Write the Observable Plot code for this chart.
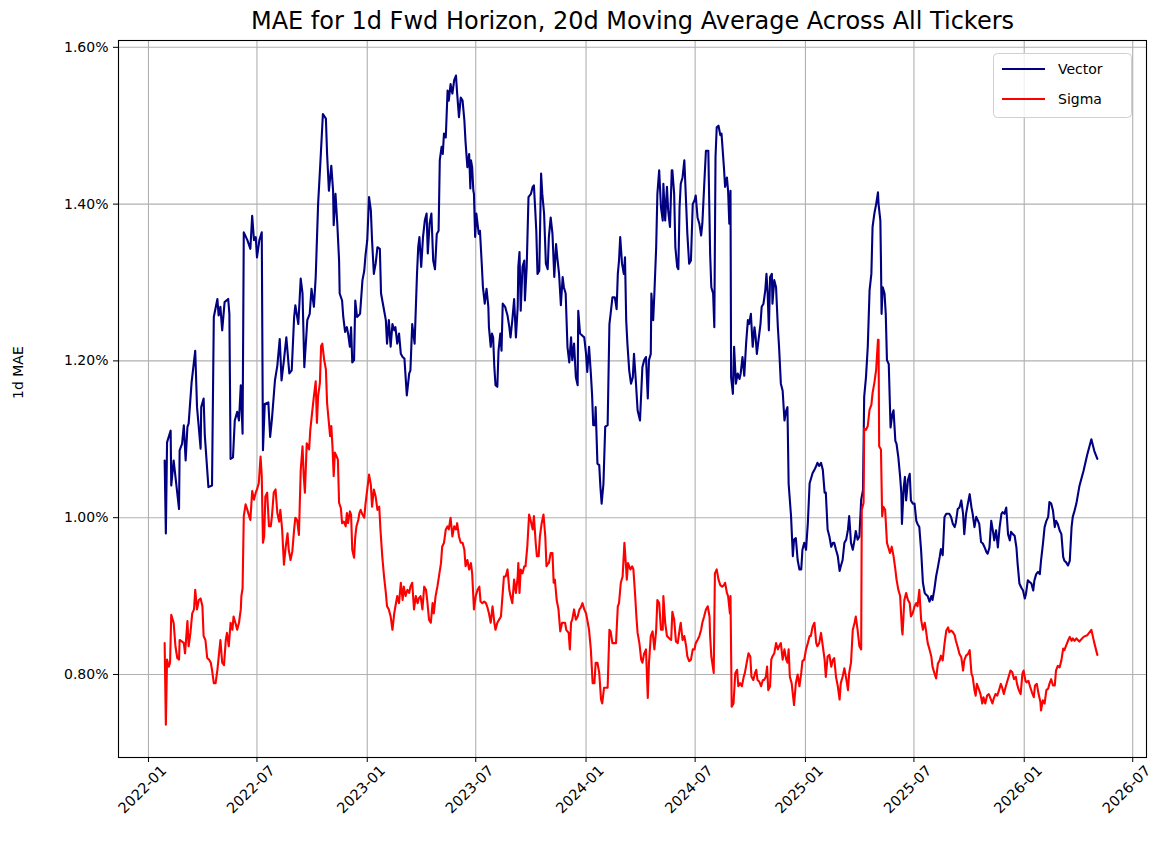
<!DOCTYPE html>
<html>
<head>
<meta charset="utf-8">
<script src="https://cdn.jsdelivr.net/npm/d3@7"></script>
<script src="https://cdn.jsdelivr.net/npm/@observablehq/plot@0.6"></script>
<style>
  html, body { margin: 0; padding: 0; background: #fff; }
  #wrap { position: relative; width: 1168px; height: 848px; font-family: "DejaVu Sans", sans-serif; }
  #legend { position: absolute; left: 993px; top: 53px; }
</style>
</head>
<body>
<div id="wrap"></div>
<script>
// ---- data: [days since startDate, 20d moving-average MAE in %] ----
const startDate = "2022-01-28";

const vectorObs = [
  [0,1.073],[2,0.980],[4,1.096],[10,1.111],[11,1.041],[15,1.073],[24,1.011],[25,1.086],[29,1.094],[32,1.118],
  [35,1.073],[38,1.116],[40,1.120],[45,1.173],[51,1.213],[54,1.141],[60,1.088],[61,1.141],[65,1.152],[67,1.105],
  [73,1.039],[79,1.041],[82,1.256],[88,1.279],[90,1.258],[93,1.269],[96,1.239],[100,1.275],[106,1.279],[108,1.260],
  [110,1.075],[114,1.077],[117,1.124],[121,1.135],[124,1.124],[127,1.169],[130,1.107],[132,1.364],[138,1.354],[143,1.343],
  [146,1.385],[149,1.354],[152,1.358],[154,1.332],[158,1.354],[162,1.364],[164,1.086],[167,1.145],[173,1.147],[176,1.103],
  [179,1.126],[184,1.175],[188,1.194],[192,1.228],[195,1.175],[199,1.201],[203,1.230],[208,1.184],[212,1.188],[216,1.256],
  [218,1.271],[223,1.247],[227,1.305],[230,1.286],[233,1.192],[238,1.252],[242,1.260],[245,1.292],[249,1.269],[252,1.307],
  [256,1.400],[260,1.456],[264,1.515],[269,1.509],[271,1.464],[274,1.417],[278,1.449],[281,1.417],[282,1.373],[285,1.413],
  [288,1.375],[291,1.328],[292,1.286],[296,1.277],[298,1.256],[301,1.237],[304,1.243],[306,1.235],[309,1.218],[311,1.243],
  [313,1.198],[316,1.201],[318,1.277],[321,1.256],[326,1.260],[330,1.303],[333,1.315],[335,1.334],[338,1.354],[341,1.409],
  [344,1.392],[346,1.354],[349,1.311],[352,1.324],[355,1.345],[359,1.343],[361,1.286],[365,1.269],[369,1.252],[371,1.222],
  [374,1.252],[377,1.218],[380,1.247],[383,1.239],[385,1.243],[388,1.222],[391,1.235],[394,1.209],[397,1.205],[400,1.203],
  [404,1.156],[408,1.184],[410,1.188],[413,1.247],[417,1.222],[421,1.311],[423,1.345],[425,1.358],[428,1.320],[431,1.358],
  [434,1.379],[437,1.388],[439,1.337],[442,1.375],[445,1.388],[448,1.328],[451,1.317],[454,1.362],[457,1.366],[459,1.456],
  [462,1.473],[464,1.464],[466,1.490],[469,1.485],[472,1.545],[474,1.532],[477,1.553],[480,1.541],[483,1.558],[486,1.564],
  [488,1.541],[491,1.511],[494,1.536],[497,1.532],[500,1.507],[502,1.479],[505,1.447],[508,1.464],[510,1.420],[511,1.456],
  [513,1.447],[515,1.417],[516,1.413],[518,1.358],[520,1.388],[524,1.362],[526,1.366],[529,1.324],[531,1.294],[534,1.273],
  [537,1.292],[540,1.269],[541,1.243],[544,1.218],[546,1.235],[548,1.230],[550,1.192],[552,1.169],[555,1.167],[557,1.213],
  [560,1.235],[562,1.213],[564,1.273],[568,1.269],[572,1.258],[575,1.243],[577,1.230],[580,1.252],[583,1.279],[586,1.230],
  [589,1.269],[590,1.320],[592,1.339],[594,1.264],[597,1.320],[600,1.328],[601,1.277],[604,1.320],[607,1.409],[611,1.413],
  [614,1.422],[616,1.424],[618,1.396],[620,1.366],[622,1.311],[625,1.315],[628,1.439],[630,1.413],[633,1.388],[636,1.324],
  [639,1.317],[641,1.358],[644,1.383],[647,1.362],[650,1.307],[653,1.349],[655,1.332],[658,1.311],[661,1.271],[664,1.307],
  [666,1.294],[669,1.286],[672,1.218],[675,1.198],[678,1.230],[680,1.201],[683,1.222],[686,1.179],[689,1.169],[690,1.264],
  [693,1.235],[697,1.232],[700,1.230],[703,1.209],[705,1.186],[708,1.218],[711,1.184],[713,1.158],[715,1.118],[718,1.118],
  [719,1.141],[722,1.069],[725,1.067],[727,1.039],[729,1.018],[732,1.043],[735,1.116],[739,1.118],[742,1.247],[744,1.260],
  [747,1.281],[751,1.281],[754,1.266],[756,1.311],[758,1.328],[760,1.358],[763,1.324],[766,1.311],[768,1.332],[770,1.252],
  [772,1.222],[775,1.188],[778,1.171],[781,1.179],[783,1.209],[786,1.175],[789,1.137],[793,1.124],[797,1.192],[800,1.201],
  [803,1.205],[806,1.152],[808,1.201],[811,1.209],[812,1.286],[815,1.252],[817,1.286],[820,1.345],[822,1.413],[825,1.443],
  [828,1.396],[831,1.379],[832,1.426],[835,1.379],[838,1.422],[840,1.392],[843,1.371],[846,1.443],[847,1.443],[850,1.413],
  [852,1.345],[855,1.320],[857,1.317],[859,1.396],[861,1.426],[864,1.434],[867,1.456],[870,1.400],[872,1.362],[875,1.324],
  [878,1.328],[881,1.400],[884,1.405],[886,1.411],[889,1.383],[892,1.375],[895,1.360],[897,1.375],[900,1.422],[903,1.468],
  [907,1.468],[910,1.337],[912,1.294],[915,1.286],[917,1.243],[919,1.460],[921,1.498],[924,1.500],[927,1.488],[929,1.490],
  [933,1.447],[935,1.422],[938,1.434],[940,1.417],[942,1.375],[944,1.417],[945,1.179],[948,1.158],[950,1.218],[953,1.171],
  [956,1.184],[959,1.177],[961,1.184],[964,1.205],[967,1.181],[970,1.222],[973,1.252],[975,1.247],[978,1.260],[981,1.218],
  [984,1.243],[986,1.230],[988,1.209],[990,1.222],[994,1.247],[996,1.269],[999,1.273],[1002,1.290],[1004,1.311],[1006,1.286],
  [1008,1.239],[1010,1.307],[1013,1.311],[1014,1.273],[1017,1.303],[1020,1.294],[1023,1.243],[1025,1.218],[1028,1.171],[1031,1.162],
  [1034,1.124],[1037,1.137],[1039,1.141],[1041,1.043],[1045,1.002],[1048,0.951],[1050,0.972],[1053,0.974],[1056,0.946],[1059,0.934],
  [1062,0.934],[1064,0.959],[1067,0.968],[1070,0.959],[1073,0.993],[1076,1.044],[1078,1.049],[1081,1.057],[1084,1.061],[1087,1.066],
  [1089,1.070],[1092,1.066],[1095,1.070],[1098,1.061],[1101,1.032],[1103,1.032],[1106,0.985],[1109,0.976],[1112,0.963],[1115,0.968],
  [1117,0.968],[1120,0.959],[1123,0.951],[1126,0.932],[1128,0.938],[1131,0.946],[1134,0.968],[1137,0.972],[1140,0.985],[1142,1.002],
  [1145,0.968],[1148,0.959],[1151,0.972],[1153,0.983],[1156,0.972],[1159,0.976],[1162,1.023],[1165,1.035],[1167,1.154],[1170,1.179],
  [1173,1.218],[1176,1.290],[1179,1.311],[1181,1.371],[1184,1.388],[1187,1.400],[1190,1.415],[1191,1.400],[1194,1.379],[1195,1.328],
  [1196,1.260],[1198,1.294],[1201,1.286],[1203,1.260],[1205,1.201],[1208,1.196],[1211,1.115],[1214,1.132],[1216,1.137],[1219,1.098],
  [1221,1.094],[1224,1.077],[1227,1.052],[1229,1.031],[1230,0.992],[1233,1.039],[1235,1.052],[1237,1.022],[1240,1.048],[1243,1.056],
  [1245,1.022],[1248,1.018],[1251,1.018],[1254,0.996],[1256,0.992],[1259,0.988],[1262,0.958],[1265,0.917],[1268,0.904],[1270,0.902],
  [1273,0.900],[1276,0.893],[1279,0.900],[1281,0.895],[1284,0.908],[1287,0.925],[1290,0.937],[1293,0.950],[1295,0.960],[1298,0.952],
  [1301,1.001],[1304,1.005],[1309,1.005],[1312,1.001],[1315,0.992],[1318,0.988],[1320,0.994],[1323,1.011],[1326,1.013],[1329,1.022],
  [1332,1.005],[1334,0.979],[1337,1.005],[1340,1.018],[1343,1.030],[1346,1.013],[1348,1.005],[1351,0.988],[1354,1.001],[1357,0.996],
  [1359,0.992],[1362,0.969],[1365,0.967],[1368,0.962],[1371,0.956],[1373,0.954],[1376,0.962],[1379,0.996],[1382,0.982],[1384,0.971],
  [1387,0.984],[1390,0.962],[1393,0.988],[1396,1.005],[1398,1.007],[1401,1.005],[1404,1.013],[1407,0.979],[1410,0.971],[1412,0.982],
  [1415,0.979],[1418,0.977],[1421,0.962],[1423,0.941],[1426,0.916],[1429,0.911],[1432,0.907],[1435,0.897],[1437,0.903],[1440,0.920],
  [1443,0.918],[1446,0.916],[1449,0.907],[1451,0.920],[1454,0.928],[1457,0.931],[1460,0.928],[1462,0.945],[1465,0.965],[1468,0.988],
  [1471,0.996],[1474,1.001],[1476,1.020],[1479,1.018],[1482,1.009],[1485,0.988],[1487,0.996],[1490,0.992],[1493,0.984],[1496,0.979],
  [1499,0.950],[1501,0.945],[1504,0.943],[1507,0.939],[1510,0.945],[1513,0.988],[1515,1.001],[1518,1.009],[1521,1.018],[1526,1.040],
  [1533,1.060],[1539,1.080],[1546,1.100],[1551,1.085],[1556,1.075]
];

const sigmaObs = [
  [0,0.840],[2,0.736],[4,0.819],[7,0.810],[9,0.815],[11,0.876],[15,0.866],[18,0.836],[21,0.821],[24,0.819],
  [25,0.844],[29,0.842],[32,0.840],[34,0.827],[38,0.868],[40,0.836],[43,0.853],[46,0.878],[49,0.883],[51,0.908],
  [54,0.883],[57,0.895],[60,0.897],[63,0.887],[65,0.849],[68,0.844],[71,0.821],[74,0.819],[77,0.815],[79,0.806],
  [82,0.789],[85,0.789],[88,0.806],[90,0.821],[93,0.844],[96,0.815],[99,0.812],[102,0.844],[104,0.853],[107,0.836],
  [110,0.866],[113,0.857],[115,0.874],[118,0.866],[121,0.857],[124,0.866],[127,0.883],[128,0.900],[130,0.910],[132,1.002],
  [135,1.017],[138,1.010],[141,1.002],[143,0.997],[146,1.034],[149,1.023],[152,1.032],[154,1.036],[157,1.044],[160,1.078],
  [162,1.053],[164,0.968],[166,0.976],[168,1.027],[171,1.032],[174,0.989],[177,0.989],[179,1.002],[182,1.032],[185,1.036],
  [188,1.006],[191,0.995],[193,1.010],[196,0.985],[199,0.940],[202,0.963],[205,0.980],[207,0.959],[210,0.946],[213,0.957],
  [216,0.985],[218,1.000],[221,0.997],[224,0.978],[227,1.061],[230,1.091],[232,1.053],[234,1.032],[237,1.095],[241,1.087],
  [243,1.112],[246,1.134],[249,1.155],[252,1.174],[254,1.121],[256,1.155],[259,1.172],[261,1.219],[263,1.222],[266,1.202],
  [269,1.189],[271,1.146],[274,1.121],[276,1.104],[278,1.117],[280,1.091],[282,1.053],[284,1.083],[287,1.078],[289,1.074],
  [291,1.019],[294,1.012],[296,0.993],[299,0.995],[302,0.989],[304,1.006],[306,0.993],[309,1.008],[311,1.004],[313,0.959],
  [316,0.949],[318,0.976],[320,0.989],[323,0.997],[325,1.006],[327,1.010],[330,1.004],[333,1.000],[335,1.017],[338,1.036],
  [341,1.055],[344,1.042],[346,1.014],[349,1.036],[352,1.027],[355,1.010],[358,1.014],[360,0.985],[363,0.951],[366,0.925],
  [369,0.904],[371,0.887],[374,0.883],[377,0.874],[380,0.857],[383,0.878],[385,0.887],[388,0.900],[391,0.891],[394,0.917],
  [397,0.895],[399,0.912],[402,0.900],[405,0.908],[408,0.904],[410,0.912],[413,0.917],[416,0.883],[419,0.900],[422,0.891],
  [424,0.897],[427,0.900],[430,0.883],[433,0.912],[436,0.908],[438,0.895],[441,0.870],[444,0.866],[447,0.891],[449,0.878],
  [452,0.900],[455,0.912],[458,0.927],[461,0.942],[463,0.963],[466,0.968],[469,0.985],[472,0.989],[474,0.985],[477,1.000],
  [480,0.976],[483,0.989],[486,0.985],[488,0.993],[491,0.976],[494,0.968],[497,0.968],[500,0.959],[502,0.938],[505,0.946],
  [508,0.934],[511,0.942],[513,0.929],[516,0.883],[519,0.900],[522,0.908],[525,0.912],[527,0.893],[530,0.891],[533,0.893],
  [536,0.891],[538,0.887],[541,0.878],[544,0.866],[547,0.887],[550,0.866],[552,0.857],[555,0.866],[558,0.870],[561,0.874],
  [564,0.904],[566,0.925],[569,0.925],[572,0.934],[575,0.908],[577,0.900],[580,0.891],[583,0.921],[586,0.904],[589,0.925],
  [590,0.942],[592,0.904],[594,0.934],[597,0.929],[600,0.938],[602,0.938],[605,0.963],[608,1.004],[611,0.995],[614,0.985],
  [616,1.002],[619,0.968],[621,0.951],[624,0.951],[626,0.976],[629,0.993],[632,1.004],[635,0.976],[637,0.938],[640,0.942],
  [641,0.942],[644,0.955],[647,0.955],[649,0.917],[651,0.921],[654,0.895],[657,0.883],[660,0.855],[663,0.866],[665,0.866],
  [668,0.866],[670,0.857],[674,0.853],[676,0.832],[678,0.866],[680,0.870],[683,0.883],[686,0.870],[689,0.874],[692,0.883],
  [694,0.885],[697,0.891],[700,0.883],[703,0.878],[705,0.870],[708,0.857],[711,0.832],[714,0.789],[717,0.789],[719,0.815],
  [722,0.815],[725,0.802],[728,0.768],[730,0.763],[733,0.783],[736,0.783],[739,0.783],[742,0.857],[744,0.855],[747,0.840],
  [750,0.840],[753,0.840],[756,0.887],[758,0.891],[761,0.917],[764,0.925],[767,0.968],[770,0.934],[771,0.921],[773,0.942],
  [777,0.934],[780,0.938],[782,0.934],[785,0.900],[787,0.874],[789,0.853],[792,0.840],[795,0.819],[797,0.815],[800,0.827],
  [803,0.832],[806,0.770],[808,0.815],[811,0.849],[814,0.855],[817,0.832],[820,0.857],[822,0.895],[825,0.891],[828,0.857],
  [831,0.857],[832,0.900],[835,0.866],[838,0.849],[842,0.846],[845,0.844],[847,0.880],[850,0.870],[853,0.842],[856,0.840],
  [859,0.857],[861,0.866],[864,0.844],[867,0.849],[870,0.836],[872,0.823],[875,0.817],[878,0.819],[881,0.832],[884,0.832],
  [886,0.840],[889,0.844],[892,0.849],[895,0.857],[897,0.866],[900,0.874],[903,0.883],[906,0.887],[909,0.874],[910,0.849],
  [912,0.823],[916,0.802],[918,0.929],[921,0.934],[924,0.921],[927,0.914],[930,0.912],[933,0.914],[935,0.917],[938,0.904],
  [940,0.900],[943,0.878],[944,0.900],[946,0.759],[949,0.763],[952,0.802],[955,0.806],[957,0.785],[960,0.789],[963,0.785],
  [966,0.797],[968,0.802],[971,0.815],[974,0.827],[977,0.823],[979,0.797],[982,0.793],[985,0.802],[987,0.806],[989,0.793],
  [992,0.791],[995,0.785],[998,0.793],[1000,0.793],[1003,0.797],[1005,0.810],[1007,0.780],[1010,0.785],[1012,0.819],[1014,0.823],
  [1017,0.827],[1020,0.840],[1023,0.832],[1025,0.836],[1028,0.840],[1031,0.819],[1034,0.832],[1037,0.819],[1039,0.815],[1041,0.832],
  [1043,0.797],[1046,0.789],[1049,0.768],[1050,0.761],[1053,0.789],[1056,0.800],[1059,0.785],[1062,0.802],[1064,0.817],[1067,0.819],
  [1070,0.832],[1073,0.840],[1076,0.849],[1078,0.849],[1081,0.861],[1084,0.866],[1087,0.840],[1089,0.836],[1092,0.840],[1095,0.853],
  [1098,0.836],[1101,0.819],[1103,0.797],[1106,0.823],[1109,0.825],[1112,0.810],[1115,0.819],[1117,0.821],[1120,0.797],[1123,0.785],
  [1126,0.768],[1128,0.789],[1131,0.797],[1134,0.808],[1137,0.795],[1140,0.780],[1142,0.802],[1145,0.815],[1148,0.857],[1151,0.866],
  [1153,0.874],[1156,0.857],[1159,0.836],[1162,0.832],[1163,1.010],[1166,1.019],[1167,1.114],[1170,1.112],[1173,1.117],[1176,1.138],
  [1179,1.144],[1181,1.159],[1184,1.172],[1187,1.189],[1190,1.227],[1191,1.227],[1192,1.091],[1195,1.087],[1197,1.002],[1199,1.014],
  [1202,1.010],[1205,0.968],[1207,0.963],[1210,0.955],[1213,0.963],[1216,0.951],[1219,0.934],[1221,0.921],[1224,0.908],[1227,0.900],
  [1230,0.857],[1231,0.851],[1234,0.895],[1237,0.904],[1240,0.895],[1243,0.891],[1245,0.874],[1248,0.878],[1251,0.887],[1254,0.891],
  [1256,0.887],[1259,0.908],[1262,0.870],[1265,0.857],[1268,0.866],[1270,0.857],[1273,0.840],[1276,0.832],[1279,0.823],[1281,0.810],
  [1284,0.802],[1287,0.795],[1290,0.814],[1293,0.818],[1295,0.824],[1298,0.818],[1301,0.839],[1304,0.856],[1307,0.860],[1309,0.854],
  [1312,0.856],[1315,0.854],[1318,0.850],[1320,0.843],[1323,0.835],[1326,0.826],[1329,0.822],[1332,0.805],[1334,0.818],[1337,0.824],
  [1340,0.826],[1343,0.831],[1346,0.801],[1348,0.797],[1351,0.780],[1353,0.773],[1355,0.788],[1358,0.782],[1361,0.775],[1364,0.763],
  [1366,0.771],[1369,0.763],[1372,0.773],[1375,0.775],[1378,0.769],[1381,0.763],[1383,0.769],[1386,0.775],[1389,0.773],[1392,0.780],
  [1395,0.788],[1397,0.784],[1400,0.775],[1403,0.784],[1406,0.792],[1408,0.797],[1411,0.805],[1414,0.803],[1417,0.794],[1420,0.797],
  [1422,0.788],[1425,0.780],[1428,0.775],[1431,0.801],[1433,0.805],[1436,0.792],[1438,0.790],[1441,0.792],[1444,0.784],[1447,0.777],
  [1450,0.771],[1452,0.786],[1455,0.788],[1458,0.775],[1461,0.765],[1462,0.754],[1465,0.767],[1468,0.763],[1471,0.780],[1474,0.782],
  [1476,0.788],[1479,0.794],[1482,0.786],[1485,0.786],[1487,0.805],[1490,0.811],[1493,0.809],[1496,0.818],[1499,0.833],[1501,0.831],
  [1504,0.837],[1507,0.843],[1510,0.848],[1513,0.843],[1515,0.846],[1518,0.843],[1521,0.846],[1526,0.842],[1533,0.848],[1539,0.850],
  [1546,0.857],[1551,0.840],[1556,0.825]
];

const seriesNames = ["Vector", "Sigma"];
const seriesColors = ["#000080", "#ff0000"];
const xTickLabels = ["2022-01", "2022-07", "2023-01", "2023-07", "2024-01",
                     "2024-07", "2025-01", "2025-07", "2026-01", "2026-07"];
const yTicks = [0.8, 1.0, 1.2, 1.4, 1.6];
const titleText = "MAE for 1d Fwd Horizon, 20d Moving Average Across All Tickers";
const yLabelText = "1d MAE";

// ---- build table ----
const t0 = new Date(startDate + "T00:00:00Z");
const rows = [];
[vectorObs, sigmaObs].forEach((obs, k) => {
  obs.forEach(([d, v]) => rows.push({ date: d3.utcDay.offset(t0, d), value: v, series: seriesNames[k] }));
});
const xTicks = xTickLabels.map(s => new Date(s + "-01T00:00:00Z"));

const FONT = "'DejaVu Sans', sans-serif";
const gridStyle = { stroke: "#b0b0b0", strokeOpacity: 1, strokeWidth: 1.1 };

const chart = Plot.plot({
  width: 1168,
  height: 848,
  marginLeft: 118,
  marginRight: 22,
  marginTop: 40,
  marginBottom: 91,
  style: { fontFamily: FONT, fontSize: "14px", color: "#000", background: "#fff", overflow: "visible" },
  x: { type: "utc", domain: [new Date("2021-11-12T00:00:00Z"), new Date("2026-07-24T00:00:00Z")] },
  y: { domain: [0.6941, 1.6087] },
  color: { domain: seriesNames, range: seriesColors },
  marks: [
    Plot.gridX(xTicks, gridStyle),
    Plot.gridY(yTicks, gridStyle),
    Plot.line(rows, { x: "date", y: "value", z: "series", stroke: "series", strokeWidth: 2.1, strokeLinejoin: "round" }),
    Plot.frame({ stroke: "#000", strokeWidth: 1.1 }),
    Plot.axisY(yTicks, { tickSize: 5, tickPadding: 5, tickFormat: d => d.toFixed(2) + "%", label: null, fontSize: 14 }),
    Plot.axisX(xTicks, { tickSize: 5, tickFormat: () => "", label: null }),
    Plot.text(xTicks, { x: d => d, text: (d, i) => xTickLabels[i], frameAnchor: "bottom", rotate: -45,
                        textAnchor: "middle", lineAnchor: "middle", dx: -6, dy: 32, fontSize: 14.5 }),
    Plot.text([titleText], { text: d => d, frameAnchor: "top", lineAnchor: "middle", dy: -19, fontSize: 24 }),
    Plot.text([yLabelText], { text: d => d, frameAnchor: "left", rotate: -90, lineAnchor: "middle", dx: -100, fontSize: 14 })
  ]
});

const wrap = document.getElementById("wrap");
wrap.appendChild(chart);

// ---- legend ----
const legendW = 138, legendH = 64;
const leg = d3.select(wrap).append("svg")
  .attr("id", "legend").attr("width", legendW + 2).attr("height", legendH + 2)
  .style("font-family", FONT).style("font-size", "14px");
leg.append("rect").attr("x", 0.5).attr("y", 0.5).attr("width", legendW).attr("height", legendH)
  .attr("rx", 4).attr("fill", "rgba(255,255,255,0.8)").attr("stroke", "#d0d0d0");
seriesNames.forEach((name, i) => {
  const cy = 16 + i * 30;
  leg.append("line").attr("x1", 9).attr("x2", 52).attr("y1", cy).attr("y2", cy)
    .attr("stroke", seriesColors[i]).attr("stroke-width", 2.1);
  leg.append("text").attr("x", 65).attr("y", cy).attr("dy", "0.35em").text(name);
});
</script>
</body>
</html>
